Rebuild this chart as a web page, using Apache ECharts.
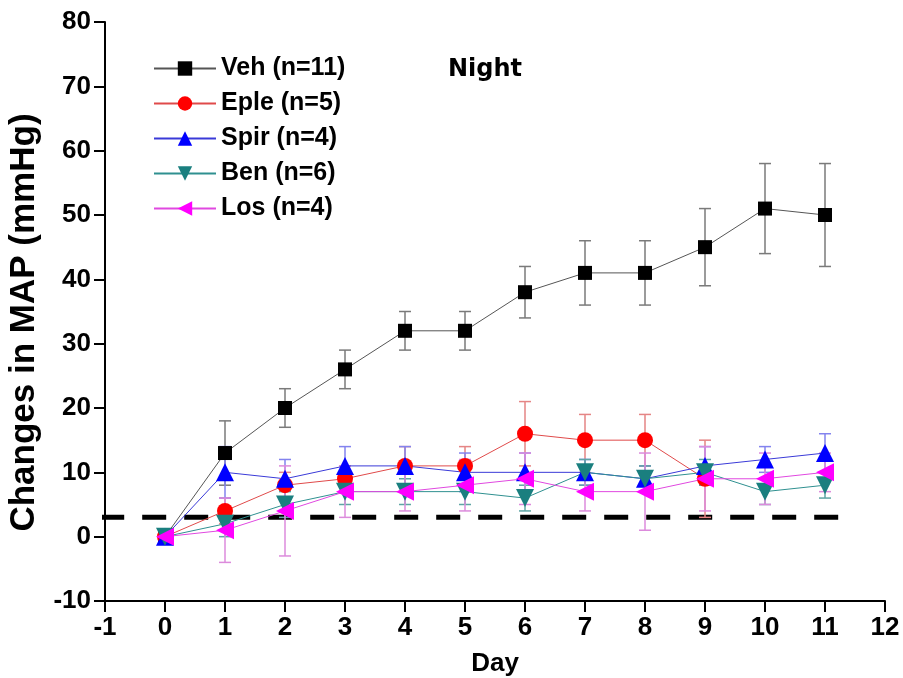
<!DOCTYPE html>
<html>
<head>
<meta charset="utf-8">
<script src="https://cdn.jsdelivr.net/npm/echarts@6.0.0/dist/echarts.min.js"></script>
<style>
  html, body { margin: 0; padding: 0; background: #fff; }
  #chart { width: 903px; height: 678px; }
</style>
</head>
<body>
<div id="chart"></div>
<script>
// 数据
const days = [0, 1, 2, 3, 4, 5, 6, 7, 8, 9, 10, 11]
const vehMean = [0, 13, 20, 26, 32, 32, 38, 41, 41, 45, 51, 50]
const vehErr = [0, 5, 3, 3, 3, 3, 4, 5, 5, 6, 7, 8]
const epleMean = [0, 4, 8, 9, 11, 11, 16, 15, 15, 9]
const epleErr = [0, 2, 2, 2, 3, 3, 5, 4, 4, 6]
const spirMean = [0, 10, 9, 11, 11, 10, 10, 10, 9, 11, 12, 13]
const spirErr = [0, 4, 3, 3, 3, 3, 3, 2, 2, 3, 2, 3]
const benMean = [0, 2, 5, 7, 7, 7, 6, 10, 9, 10, 7, 8]
const benErr = [0, 2, 2, 2, 2, 2, 2, 2, 2, 2, 2, 2]
const losMean = [0, 1, 4, 7, 7, 8, 9, 7, 7, 9, 9, 10]
const losErr = [0, 5, 7, 4, 3, 4, 4, 3, 6, 5, 4, 3]
const baselineX = [-1.08, 11.32]
const baselineY = [3, 3]
const legendNames = ['Veh (n=11)', 'Eple (n=5)', 'Spir (n=4)', 'Ben (n=6)', 'Los (n=4)']

let myChart = echarts.init(document.getElementById('chart'))

const font = 'Liberation Sans, Arial, sans-serif'

function pairs(mean) {
    return mean.map((v, i) => [days[i], v])
}

// 误差棒
function errSeries(mean, err, color) {
    return {
        type: 'custom',
        silent: true,
        z: 1,
        renderItem: function (params, api) {
            let x = api.value(0), y = api.value(1), e = api.value(2)
            if (!e) return null
            let top = api.coord([x, y + e])
            let bot = api.coord([x, y - e])
            let w = 6
            let st = { stroke: color, lineWidth: 1.5 }
            return {
                type: 'group',
                children: [
                    { type: 'line', shape: { x1: top[0], y1: top[1], x2: bot[0], y2: bot[1] }, style: st },
                    { type: 'line', shape: { x1: top[0] - w, y1: top[1], x2: top[0] + w, y2: top[1] }, style: st },
                    { type: 'line', shape: { x1: bot[0] - w, y1: bot[1], x2: bot[0] + w, y2: bot[1] }, style: st }
                ]
            }
        },
        data: mean.map((v, i) => [days[i], v, err[i]])
    }
}

function lineSeries(name, mean, symbol, rotate, size, color, lineColor) {
    return {
        name: name,
        type: 'line',
        z: 3,
        data: pairs(mean),
        symbol: symbol,
        symbolRotate: rotate,
        symbolSize: size,
        itemStyle: { color: color },
        lineStyle: { color: lineColor, width: 1 }
    }
}

let option = {
    animation: false,
    grid: {
        left: 105,
        right: 18,
        top: 22,
        bottom: 77,
        containLabel: false,
        outerBoundsMode: 'none'
    },
    legend: {
        orient: 'vertical',
        left: 153,
        top: 56,
        padding: 0,
        itemWidth: 62,
        itemHeight: 18,
        itemGap: 10,
        data: legendNames,
        textStyle: {
            fontFamily: font,
            fontWeight: 'bold',
            fontSize: 25,
            lineHeight: 24,
            color: '#000'
        }
    },
    graphic: [{
        type: 'text',
        left: 448,
        top: 58,
        style: {
            text: 'Night',
            fontFamily: 'DejaVu Sans',
            fontWeight: 'bold',
            fontSize: 24,
            fill: '#000'
        }
    }],
    xAxis: {
        type: 'value',
        min: -1,
        max: 12,
        interval: 1,
        name: 'Day',
        nameLocation: 'middle',
        nameGap: 50,
        nameTextStyle: { fontFamily: font, fontWeight: 'bold', fontSize: 26, color: '#000' },
        axisLine: { onZero: false, lineStyle: { color: '#000', width: 2 } },
        axisTick: { inside: false, length: 11, lineStyle: { color: '#000', width: 2 } },
        axisLabel: { margin: 14, fontFamily: font, fontWeight: 'bold', fontSize: 26, color: '#000' },
        splitLine: { show: false }
    },
    yAxis: {
        type: 'value',
        min: -10,
        max: 80,
        interval: 10,
        name: 'Changes in MAP (mmHg)',
        nameLocation: 'middle',
        nameGap: 63,
        nameTextStyle: { fontFamily: font, fontWeight: 'bold', fontSize: 35, color: '#000', padding: [0, 22, 0, 0] },
        axisLine: { show: true, onZero: false, lineStyle: { color: '#000', width: 2 } },
        axisTick: { show: true, length: 11, lineStyle: { color: '#000', width: 2 } },
        axisLabel: { margin: 14, fontFamily: font, fontWeight: 'bold', fontSize: 26, color: '#000' },
        splitLine: { show: false }
    },
    series: [
        {
            // 基线虚线
            type: 'line',
            silent: true,
            clip: false,
            z: 0,
            symbol: 'none',
            data: baselineX.map((x, i) => [x, baselineY[i]]),
            lineStyle: { color: '#000', width: 5, type: [24, 18] }
        },
        errSeries(vehMean, vehErr, '#7a7a7a'),
        errSeries(epleMean, epleErr, '#e58585'),
        errSeries(spirMean, spirErr, '#8383ee'),
        errSeries(benMean, benErr, '#5fa5a5'),
        errSeries(losMean, losErr, '#dc8bdc'),
        lineSeries(legendNames[0], vehMean, 'rect', 0, 14, '#000', '#555'),
        lineSeries(legendNames[1], epleMean, 'circle', 0, 16, '#ff0000', '#e04a4a'),
        lineSeries(legendNames[2], spirMean, 'triangle', 0, 18, '#0000ff', '#3a3ad8'),
        lineSeries(legendNames[3], benMean, 'triangle', 180, 18, '#1a7f7f', '#2f9090'),
        lineSeries(legendNames[4], losMean, 'triangle', 90, 18, '#ff00ff', '#e048e0')
    ]
}

myChart.setOption(option)
</script>
</body>
</html>
